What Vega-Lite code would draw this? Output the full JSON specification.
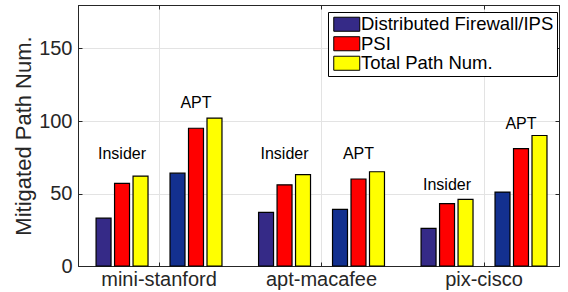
{
  "$schema": "https://vega.github.io/schema/vega-lite/v6.json",
  "width": 481,
  "height": 261,
  "autosize": {"type": "none"},
  "padding": {"top": 5, "left": 78, "right": 9, "bottom": 26},
  "background": "white",
  "config": {
    "font": "Liberation Sans",
    "view": {"stroke": "black", "strokeWidth": 1},
    "axis": {
      "labelFont": "Liberation Sans",
      "titleFont": "Liberation Sans",
      "labelColor": "#262626",
      "titleColor": "#262626",
      "domainColor": "#262626",
      "tickColor": "#262626",
      "gridColor": "#e3e3e3",
      "gridWidth": 1
    },
    "legend": {
      "labelFont": "Liberation Sans",
      "labelColor": "#000000"
    }
  },
  "datasets": {
    "bars": [
      {"group": "mini-stanford", "kind": "Insider", "series": "Distributed Firewall/IPS", "value": 33},
      {"group": "mini-stanford", "kind": "Insider", "series": "PSI", "value": 57},
      {"group": "mini-stanford", "kind": "Insider", "series": "Total Path Num.", "value": 62},
      {"group": "mini-stanford", "kind": "APT", "series": "Distributed Firewall/IPS", "value": 64},
      {"group": "mini-stanford", "kind": "APT", "series": "PSI", "value": 95},
      {"group": "mini-stanford", "kind": "APT", "series": "Total Path Num.", "value": 102},
      {"group": "apt-macafee", "kind": "Insider", "series": "Distributed Firewall/IPS", "value": 37},
      {"group": "apt-macafee", "kind": "Insider", "series": "PSI", "value": 56},
      {"group": "apt-macafee", "kind": "Insider", "series": "Total Path Num.", "value": 63},
      {"group": "apt-macafee", "kind": "APT", "series": "Distributed Firewall/IPS", "value": 39},
      {"group": "apt-macafee", "kind": "APT", "series": "PSI", "value": 60},
      {"group": "apt-macafee", "kind": "APT", "series": "Total Path Num.", "value": 65},
      {"group": "pix-cisco", "kind": "Insider", "series": "Distributed Firewall/IPS", "value": 26},
      {"group": "pix-cisco", "kind": "Insider", "series": "PSI", "value": 43},
      {"group": "pix-cisco", "kind": "Insider", "series": "Total Path Num.", "value": 46},
      {"group": "pix-cisco", "kind": "APT", "series": "Distributed Firewall/IPS", "value": 51},
      {"group": "pix-cisco", "kind": "APT", "series": "PSI", "value": 81},
      {"group": "pix-cisco", "kind": "APT", "series": "Total Path Num.", "value": 90}
    ],
    "labels": [
      {"group": "mini-stanford", "kind": "Insider", "y": 77},
      {"group": "mini-stanford", "kind": "APT", "y": 112.5},
      {"group": "apt-macafee", "kind": "Insider", "y": 77.4},
      {"group": "apt-macafee", "kind": "APT", "y": 77.4},
      {"group": "pix-cisco", "kind": "Insider", "y": 55.7},
      {"group": "pix-cisco", "kind": "APT", "y": 97.6}
    ]
  },
  "layer": [
    {
      "data": {"name": "bars"},
      "transform": [{"calculate": "datum.kind + '|' + datum.series", "as": "slot"}],
      "mark": {"type": "bar", "stroke": "#000000", "strokeWidth": 1.2},
      "encoding": {
        "x": {
          "field": "group",
          "type": "nominal",
          "sort": ["mini-stanford", "apt-macafee", "pix-cisco"],
          "scale": {"paddingInner": 0.1, "paddingOuter": 0.03, "align": 0.81},
          "axis": {
            "title": null,
            "orient": "bottom",
            "labelAngle": 0,
            "labelFontSize": 20,
            "labelPadding": 7,
            "tickSize": -4,
            "grid": true,
            "domain": true
          }
        },
        "xOffset": {
          "field": "slot",
          "type": "nominal",
          "scale": {
            "domain": ["Insider|Distributed Firewall/IPS", "Insider|PSI", "Insider|Total Path Num.", "gap", "APT|Distributed Firewall/IPS", "APT|PSI", "APT|Total Path Num."],
            "paddingInner": 0.19,
            "paddingOuter": 0.55
          }
        },
        "y": {
          "field": "value",
          "type": "quantitative",
          "scale": {"domain": [0, 180], "nice": false},
          "axis": {
            "title": "Mitigated Path Num.",
            "orient": "left",
            "values": [0, 50, 100, 150],
            "labelFontSize": 20,
            "titleFontSize": 22,
            "titleFontWeight": "normal",
            "labelPadding": 10,
            "titlePadding": 3,
            "tickSize": -4,
            "grid": true
          }
        },
        "color": {
          "condition": {"test": "datum.kind === 'APT' && datum.series === 'Distributed Firewall/IPS'", "value": "#13308f"},
          "field": "series",
          "type": "nominal",
          "scale": {
            "domain": ["Distributed Firewall/IPS", "PSI", "Total Path Num."],
            "range": ["#352a87", "#ff0000", "#ffff00"]
          },
          "legend": {
            "title": null,
            "orient": "none",
            "legendX": 250,
            "legendY": 7,
            "labelFontSize": 18.5,
            "labelLimit": 0,
            "padding": 3,
            "rowPadding": 0.5,
            "symbolType": "M-2,-1.08L2,-1.08L2,1.08L-2,1.08Z",
            "symbolSize": 169,
            "symbolOffset": 6.5,
            "labelOffset": 5,
            "symbolStrokeColor": "#000000",
            "symbolStrokeWidth": 1,
            "symbolOpacity": 1,
            "strokeColor": "#000000",
            "fillColor": "#ffffff",
            "cornerRadius": 0
          }
        }
      }
    },
    {
      "data": {"name": "labels"},
      "transform": [{"calculate": "datum.kind + '|PSI'", "as": "slot"}],
      "mark": {"type": "text", "fontSize": 16, "color": "#000000", "baseline": "middle", "align": "center", "font": "Liberation Sans"},
      "encoding": {
        "x": {
          "field": "group",
          "type": "nominal",
          "sort": ["mini-stanford", "apt-macafee", "pix-cisco"],
          "axis": {"orient": "top", "labels": false, "title": null, "tickSize": -4, "grid": false, "domain": true}
        },
        "xOffset": {"field": "slot", "type": "nominal"},
        "y": {
          "field": "y",
          "type": "quantitative",
          "axis": {"orient": "right", "labels": false, "title": null, "values": [0, 50, 100, 150], "tickSize": -4, "grid": false, "domain": true}
        },
        "text": {"field": "kind"}
      }
    }
  ],
  "resolve": {"axis": {"x": "independent", "y": "independent"}}
}
